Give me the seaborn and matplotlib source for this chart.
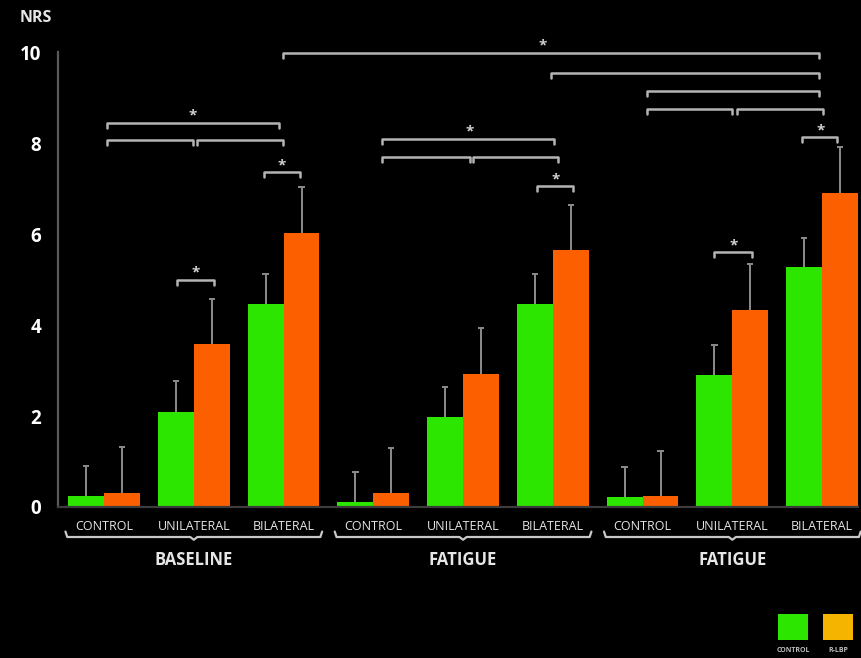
import matplotlib
matplotlib.use("Agg")
import matplotlib.pyplot as plt
from matplotlib.patches import Rectangle
import numpy as np
import pandas as pd
import seaborn as sns

# ---- data -------------------------------------------------------------
phases = ["BASELINE", "FATIGUE", "FATIGUE"]
conditions = ["CONTROL", "UNILATERAL", "BILATERAL"]
groups = ["CONTROL", "R-LBP"]

control_mean = [0.24, 2.10, 4.46, 0.11, 1.98, 4.46, 0.22, 2.90, 5.27]
control_sd = [0.66, 0.67, 0.66, 0.66, 0.66, 0.66, 0.66, 0.66, 0.64]
rlbp_mean = [0.31, 3.58, 6.02, 0.31, 2.92, 5.65, 0.24, 4.33, 6.90]
rlbp_sd = [1.01, 0.99, 1.01, 0.99, 1.01, 0.99, 0.99, 1.01, 1.01]

# significance brackets: (x_start, x_end, y, star x or None)
brackets = [
    (0.81, 1.23, 4.99, 1.02),
    (1.78, 2.18, 7.36, 1.98),
    (0.03, 0.99, 8.07, None),
    (1.04, 1.99, 8.07, None),
    (0.03, 1.95, 8.44, 0.99),
    (3.10, 4.08, 7.69, None),
    (4.11, 5.06, 7.69, None),
    (3.10, 5.01, 8.09, 4.07),
    (4.82, 5.23, 7.05, 5.03),
    (6.80, 7.22, 5.60, 7.01),
    (7.78, 8.17, 8.13, 7.98),
    (6.05, 7.00, 8.75, None),
    (7.05, 8.01, 8.75, None),
    (6.05, 7.97, 9.14, None),
    (4.98, 7.97, 9.54, None),
    (1.99, 7.97, 9.98, 4.89),
]

GREEN = "#2de600"
ORANGE = "#fb5f00"
LEGEND_ORANGE = "#f5b400"
GREY = "#8c8c8c"
TEXT = "#e6e6e6"
FONT = "Open Sans"

# ---- table for seaborn -----------------------------------------------
keys = [f"{p}-{c}-{i}" for i, (p, c) in enumerate(
    [(p, c) for p in phases for c in conditions])]
df = pd.DataFrame({
    "cell": keys * 2,
    "group": [groups[0]] * 9 + [groups[1]] * 9,
    "NRS": control_mean + rlbp_mean,
})

sns.set_style("dark")
plt.rcParams["font.family"] = [FONT, "DejaVu Sans"]

fig = plt.figure(figsize=(8.61, 6.58), dpi=100, facecolor="black")
ax = fig.add_axes([58 / 861, 151 / 658, 800 / 861, 482 / 658])
ax.set_facecolor("black")

sns.barplot(data=df, x="cell", y="NRS", hue="group", order=keys,
            hue_order=groups, palette=[GREEN, ORANGE], width=0.8,
            errorbar=None, legend=False, saturation=1, linewidth=0, ax=ax)

# upward-only error bars rising from each bar top
x = np.arange(len(keys))
cap = 0.035
for off, m, s in [(-0.2, control_mean, control_sd), (0.2, rlbp_mean, rlbp_sd)]:
    xs = x + off
    tops = np.array(m) + np.array(s)
    ax.vlines(xs, m, tops, color=GREY, lw=1.4, zorder=0.5)
    ax.hlines(tops, xs - cap, xs + cap, color=GREY, lw=1.4, zorder=0.5)

ax.set_xlim(-0.513, 8.40)
ax.set_ylim(0, 10.6)

# axes styling
for side in ["top", "right"]:
    ax.spines[side].set_visible(False)
ax.spines["left"].set_bounds(0, 10)
ax.spines["left"].set_color("#5a5a5a")
ax.spines["left"].set_linewidth(1.6)
ax.spines["bottom"].set_color("#3c3c3c")
ax.spines["bottom"].set_linewidth(1.6)
ax.grid(False)
ax.set_yticks([0, 2, 4, 6, 8, 10])
ax.tick_params(axis="y", colors="#5a5a5a", length=4, width=1.4, pad=8,
               labelcolor="white", labelsize=13.5)
for lab in ax.get_yticklabels():
    lab.set_fontweight("bold")
ax.set_xticks(x)
ax.set_xticklabels(conditions * 3, color=TEXT, fontsize=9)
ax.tick_params(axis="x", length=0, pad=9)
ax.set_xlabel("")
ax.set_ylabel("")
fig.text(36 / 861, 1 - 18 / 658, "NRS", color=TEXT, fontsize=11.5,
         fontweight="bold", ha="center", va="center")

# significance brackets with stars
tip = 0.1
for x0, x1, yb, sx in brackets:
    ax.plot([x0, x0, x1, x1], [yb - tip, yb, yb, yb - tip], color="#b4b4b4",
            lw=1.8, solid_joinstyle="round", solid_capstyle="round",
            clip_on=False, zorder=3)
    if sx is not None:
        ax.text(sx, yb + 0.16, "*", color="#d0d0d0", fontsize=11,
                fontweight="bold", ha="center", va="center")

# braces grouping the conditions of each phase
for c, label in zip([1.0, 4.0, 7.0], phases):
    x0, x1 = c - 1.43, c + 1.43
    yb = -0.66
    ax.plot([x0, x0 + 0.02, c - 0.04, c, c + 0.04, x1 - 0.02, x1],
            [yb + 0.12, yb, yb, yb - 0.06, yb, yb, yb + 0.12],
            color="#c8c8c8", lw=1.6, clip_on=False,
            solid_joinstyle="round")
    ax.text(c, -1.17, label, color=TEXT, fontsize=12, fontweight="bold",
            ha="center", va="center")

# legend swatches
for (x0, col, lab) in [(778, GREEN, groups[0]), (823, LEGEND_ORANGE, groups[1])]:
    fig.add_artist(Rectangle((x0 / 861, 1 - 640 / 658), 30 / 861, 26 / 658,
                             transform=fig.transFigure, facecolor=col,
                             edgecolor="none"))
    fig.text((x0 + 15) / 861, 1 - 650 / 658, lab, color="#bdbdbd",
             fontsize=5, fontweight="bold", ha="center", va="center")

fig.savefig("out.png", dpi=100, facecolor="black")
